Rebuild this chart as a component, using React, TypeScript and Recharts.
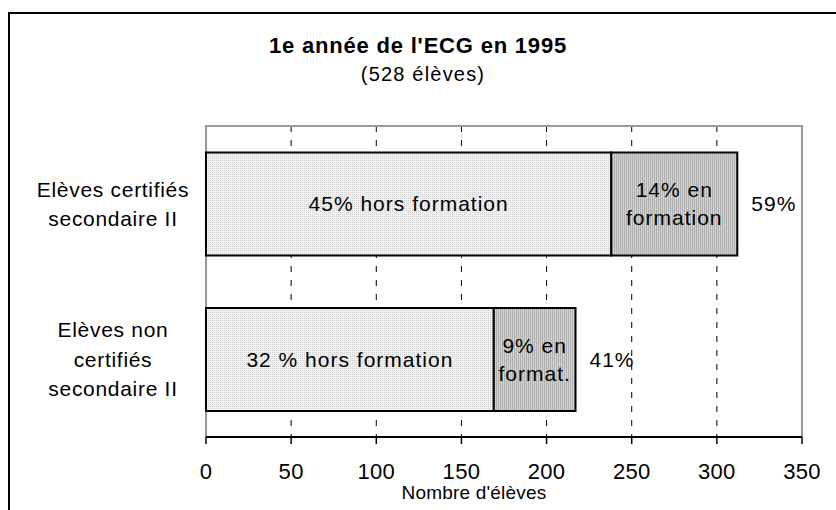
import React from "react";
import {
  BarChart,
  Bar,
  XAxis,
  YAxis,
  CartesianGrid,
  ReferenceArea,
  LabelList,
  Label,
} from "recharts";

const categories = [
  "Elèves certifiés\nsecondaire II",
  "Elèves non\ncertifiés\nsecondaire II",
];
const horsFormation = [238, 169];
const enFormation = [74, 48];
const horsLabels = ["45% hors formation", "32 % hors formation"];
const enLabels = ["14% en\nformation", "9% en\nformat."];
const totalLabels = ["59%", "41%"];
const xTicks = [0, 50, 100, 150, 200, 250, 300, 350];
const edgeTicks = [0, 1, 2];

const FONT = '"Liberation Sans", Arial, Helvetica, sans-serif';

const data = categories.map((cat, i) => ({
  cat,
  hors: horsFormation[i],
  en: enFormation[i],
}));

// multi-line category labels, centred under the tick anchor
const CatTick = (props: any) => {
  const { x, y, payload } = props;
  const lines = String(payload.value).split("\n");
  return (
    <text
      x={x}
      y={y}
      textAnchor="middle"
      fontSize={21}
      fontFamily={FONT}
      letterSpacing={0.7}
      fill="#000"
    >
      {lines.map((l, i) => (
        <tspan key={i} x={x} y={y + (i - (lines.length - 1) / 2) * 29.5 + 7.5}>
          {l}
        </tspan>
      ))}
    </text>
  );
};

const HorsLabel = (props: any) => {
  const { x, y, width, height, index } = props;
  return (
    <text
      x={x + width / 2}
      y={y + height / 2 + 7.5}
      textAnchor="middle"
      fontSize={21}
      fontFamily={FONT}
      letterSpacing={1}
      fill="#000"
    >
      {horsLabels[index]}
    </text>
  );
};

const EnLabel = (props: any) => {
  const { x, y, width, height, index } = props;
  const lines = enLabels[index].split("\n");
  const cy = y + height / 2;
  return (
    <g fontSize={21} fontFamily={FONT} letterSpacing={1} fill="#000">
      <text textAnchor="middle">
        {lines.map((l, i) => (
          <tspan key={i} x={x + width / 2} y={cy + (i - (lines.length - 1) / 2) * 28 + 7.5}>
            {l}
          </tspan>
        ))}
      </text>
      <text x={x + width + 14} y={cy + 7.5} textAnchor="start">
        {totalLabels[index]}
      </text>
    </g>
  );
};

export default function App() {
  return (
    <div
      style={{
        position: "absolute",
        left: 0,
        top: 0,
        width: 836,
        height: 510,
        overflow: "hidden",
        background: "#fff",
        fontFamily: FONT,
      }}
    >
      <div
        style={{
          position: "absolute",
          left: 8,
          top: 12,
          width: 900,
          height: 600,
          border: "2px solid #000",
        }}
      />
      <div
        style={{
          position: "absolute",
          left: 0,
          top: 35,
          width: 836,
          textAlign: "center",
          fontSize: 22,
          lineHeight: "22px",
          fontWeight: "bold",
          letterSpacing: 0.8,
          color: "#000",
        }}
      >
        1e année de l'ECG en 1995
      </div>
      <div
        style={{
          position: "absolute",
          left: 0,
          top: 64,
          width: 846,
          textAlign: "center",
          fontSize: 20,
          lineHeight: "20px",
          letterSpacing: 1.2,
          color: "#000",
        }}
      >
        (528 élèves)
      </div>
      <div style={{ position: "absolute", left: 0, top: 0 }}>
        <BarChart
          width={836}
          height={510}
          data={data}
          layout="vertical"
          margin={{ top: 126, right: 34, bottom: 0, left: 0 }}
          barCategoryGap="17%"
        >
          <defs>
            <pattern id="lightFill" width="2" height="2" patternUnits="userSpaceOnUse">
              <rect width="2" height="2" fill="#f2f2f2" />
              <rect width="1" height="1" fill="#cfcfcf" />
            </pattern>
            <pattern id="darkFill" width="2" height="2" patternUnits="userSpaceOnUse">
              <rect width="2" height="2" fill="#d2d2d2" />
              <rect width="1" height="2" fill="#b0b0b0" />
            </pattern>
          </defs>
          <CartesianGrid
            yAxisId="cat"
            horizontal={false}
            stroke="#000"
            strokeDasharray="6 8"
          />
          <ReferenceArea
            yAxisId="cat"
            x1={0}
            x2={350}
            fill="none"
            stroke="#9a9a9a"
            strokeWidth={2}
            ifOverflow="visible"
          />
          <XAxis
            type="number"
            domain={[0, 350]}
            ticks={xTicks}
            interval={0}
            height={73}
            tickSize={7}
            tickMargin={19}
            axisLine={{ stroke: "#000", strokeWidth: 2 }}
            tickLine={{ stroke: "#000", strokeWidth: 1.5 }}
            tick={{ fontSize: 22, fill: "#000", fontFamily: FONT, letterSpacing: 0.3 }}
          >
            <Label
              value="Nombre d'élèves"
              position="insideBottom"
              offset={11}
              dx={-30}
              fontSize={19}
              fontFamily={FONT}
              letterSpacing={0.2}
              fill="#000"
            />
          </XAxis>
          <YAxis
            yAxisId="edge"
            type="number"
            domain={[0, 2]}
            allowDataOverflow
            ticks={edgeTicks}
            width={0}
            tick={false}
            tickSize={7}
            axisLine={{ stroke: "#000", strokeWidth: 2 }}
            tickLine={{ stroke: "#000", strokeWidth: 1.5 }}
          />
          <YAxis
            yAxisId="cat"
            type="category"
            dataKey="cat"
            width={206}
            tickSize={0}
            tickMargin={93}
            axisLine={false}
            tickLine={false}
            tick={<CatTick />}
          />
          <Bar
            yAxisId="cat"
            dataKey="hors"
            stackId="a"
            fill="url(#lightFill)"
            stroke="#000"
            strokeWidth={2}
            isAnimationActive={false}
          >
            <LabelList dataKey="hors" content={<HorsLabel />} />
          </Bar>
          <Bar
            yAxisId="cat"
            dataKey="en"
            stackId="a"
            fill="url(#darkFill)"
            stroke="#000"
            strokeWidth={2}
            isAnimationActive={false}
          >
            <LabelList dataKey="en" content={<EnLabel />} />
          </Bar>
        </BarChart>
      </div>
    </div>
  );
}
